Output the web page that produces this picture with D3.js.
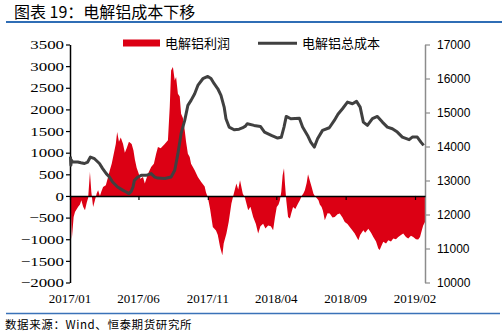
<!DOCTYPE html>
<html>
<head>
<meta charset="utf-8">
<script src="https://cdn.jsdelivr.net/npm/d3@7"></script>
<style>
  html, body { margin: 0; padding: 0; background: #ffffff; }
  svg { display: block; }
</style>
</head>
<body>
<svg id="chart" width="502" height="335"></svg>
<script>
// ---------- DATA ----------
const titleText = "图表 19：电解铝成本下移";
const sourceText = "数据来源：Wind、恒泰期货研究所";
const seriesNames = ["电解铝利润", "电解铝总成本"];

const profitDates = ["2017-01-03","2017-01-05","2017-01-09","2017-01-12","2017-01-19","2017-01-23","2017-01-26","2017-01-30","2017-02-03","2017-02-07","2017-02-10","2017-02-14","2017-02-17","2017-02-21","2017-02-25","2017-03-01","2017-03-04","2017-03-08","2017-03-11","2017-03-15","2017-03-21","2017-03-26","2017-03-30","2017-04-03","2017-04-08","2017-04-12","2017-04-15","2017-04-19","2017-04-23","2017-04-28","2017-05-02","2017-05-06","2017-05-11","2017-05-17","2017-05-21","2017-05-24","2017-05-28","2017-06-02","2017-06-05","2017-06-11","2017-06-15","2017-06-22","2017-06-29","2017-07-05","2017-07-10","2017-07-14","2017-07-20","2017-07-29","2017-08-05","2017-08-09","2017-08-12","2017-08-16","2017-08-20","2017-08-23","2017-08-27","2017-08-31","2017-09-03","2017-09-07","2017-09-11","2017-09-14","2017-09-18","2017-09-22","2017-09-25","2017-10-03","2017-10-10","2017-10-17","2017-10-25","2017-10-28","2017-11-01","2017-11-06","2017-11-12","2017-11-19","2017-11-23","2017-11-28","2017-12-03","2017-12-06","2017-12-12","2017-12-17","2017-12-23","2017-12-27","2018-01-03","2018-01-07","2018-01-11","2018-01-17","2018-01-22","2018-01-29","2018-02-03","2018-02-09","2018-02-15","2018-02-20","2018-02-25","2018-03-03","2018-03-08","2018-03-14","2018-03-20","2018-03-25","2018-03-29","2018-04-02","2018-04-06","2018-04-09","2018-04-12","2018-04-15","2018-04-18","2018-04-20","2018-04-23","2018-04-27","2018-05-01","2018-05-04","2018-05-08","2018-05-13","2018-05-19","2018-05-23","2018-05-27","2018-05-31","2018-06-03","2018-06-07","2018-06-10","2018-06-14","2018-06-18","2018-06-22","2018-06-25","2018-06-29","2018-07-03","2018-07-06","2018-07-10","2018-07-13","2018-07-17","2018-07-23","2018-07-28","2018-08-03","2018-08-08","2018-08-14","2018-08-19","2018-08-25","2018-08-30","2018-09-05","2018-09-10","2018-09-16","2018-09-21","2018-09-29","2018-10-03","2018-10-10","2018-10-14","2018-10-21","2018-10-27","2018-11-01","2018-11-07","2018-11-12","2018-11-15","2018-11-19","2018-11-23","2018-11-29","2018-12-04","2018-12-10","2018-12-15","2018-12-21","2018-12-26","2019-01-01","2019-01-06","2019-01-12","2019-01-17","2019-01-23","2019-01-28","2019-02-03","2019-02-08","2019-02-12","2019-02-16","2019-02-19","2019-02-23"];
const profitValues = [-300,-1000,-485,-370,-250,-200,-100,-250,-330,-150,-50,554,100,-254,-100,60,130,0,100,208,250,440,600,747,1000,1200,1480,1250,1350,1200,1000,1100,1250,1200,1050,850,650,500,400,440,285,515,670,747,978,1130,1100,1200,1285,2055,2900,2979,2670,2750,2363,2300,1900,1800,1517,1250,978,900,747,593,440,330,220,80,-30,-300,-716,-800,-900,-1178,-1370,-1100,-870,-600,-177,0,285,150,362,54,-50,-330,-250,-485,-650,-870,-700,-640,-750,-680,-700,-793,-500,-254,-200,-100,100,477,640,300,-100,-485,-520,-400,-254,-300,-177,-100,0,60,130,300,500,350,208,50,0,-50,-100,-200,-254,-350,-560,-400,-408,-500,-485,-420,-408,-500,-600,-650,-716,-800,-870,-1024,-900,-793,-850,-755,-850,-947,-1050,-1217,-1250,-1150,-1060,-1100,-1024,-1050,-986,-1000,-947,-900,-870,-950,-986,-920,-947,-1000,-1009,-950,-793,-680,-600];

const costDates = ["2017-01-02","2017-01-03","2017-01-04","2017-01-07","2017-01-18","2017-01-25","2017-02-02","2017-02-09","2017-02-15","2017-02-24","2017-03-07","2017-03-14","2017-03-22","2017-03-29","2017-04-05","2017-04-16","2017-04-28","2017-05-05","2017-05-11","2017-05-16","2017-05-20","2017-05-23","2017-05-31","2017-06-07","2017-06-18","2017-06-29","2017-07-07","2017-07-14","2017-07-29","2017-08-12","2017-08-20","2017-08-27","2017-09-03","2017-09-11","2017-09-18","2017-09-25","2017-10-03","2017-10-10","2017-10-21","2017-11-01","2017-11-08","2017-11-15","2017-11-23","2017-11-30","2017-12-07","2017-12-11","2017-12-18","2017-12-29","2018-01-09","2018-01-16","2018-01-23","2018-01-27","2018-02-11","2018-02-25","2018-03-06","2018-03-21","2018-04-04","2018-04-12","2018-04-18","2018-04-23","2018-05-03","2018-05-22","2018-05-29","2018-06-09","2018-06-16","2018-06-24","2018-07-01","2018-07-12","2018-07-27","2018-08-07","2018-08-15","2018-08-25","2018-09-05","2018-09-16","2018-09-25","2018-10-03","2018-10-10","2018-10-19","2018-10-30","2018-11-10","2018-11-21","2018-12-02","2018-12-13","2018-12-24","2019-01-04","2019-01-19","2019-01-26","2019-02-06","2019-02-14","2019-02-20"];
const costValues = [13700,13450,13600,13543,13543,13520,13500,13543,13690,13640,13500,13350,13202,13100,12955,12808,12710,12662,12613,12680,12808,13005,13104,13153,13153,13202,13100,13070,13060,13104,13299,13790,14377,14768,15209,15356,15552,15796,15993,16060,16000,15846,15698,15502,15159,14818,14571,14493,14510,14545,14600,14671,14620,14590,14424,14326,14248,14270,14571,14885,14816,14830,14571,14326,14130,13983,14228,14474,14552,14768,14950,15111,15306,15258,15326,15159,14718,14621,14818,14885,14718,14571,14522,14424,14277,14200,14277,14277,14130,14033];

const xTickDates = ["2017-01-01","2017-06-01","2017-11-01","2018-04-01","2018-09-01","2019-02-01"];
const xTickLabels = ["2017/01","2017/06","2017/11","2018/04","2018/09","2019/02"];
const leftTicks = [-2000,-1500,-1000,-500,0,500,1000,1500,2000,2500,3000,3500];
const rightTicks = [10000,11000,12000,13000,14000,15000,16000,17000];

// ---------- LAYOUT ----------
const parse = d3.timeParse("%Y-%m-%d");
const svg = d3.select("#chart");
const plotLeft = 70, plotRight = 425, plotTop = 44.5, plotBottom = 282.5;
const RED = "#DC0014", LINE = "#404040";

const x = d3.scaleTime()
  .domain([parse("2017-01-01"), parse("2019-02-23")])
  .range([plotLeft, plotRight]);
const yL = d3.scaleLinear().domain([-2000, 3500]).range([plotBottom, plotTop]);
const yR = d3.scaleLinear().domain([10000, 17000]).range([plotBottom, plotTop]);

const profit = profitDates.map((d, i) => ({ date: parse(d), v: profitValues[i] }));
const cost = costDates.map((d, i) => ({ date: parse(d), v: costValues[i] }));

// Title & rules
svg.append("text").attr("x", 14).attr("y", 18)
  .attr("font-family", "'Noto Sans CJK SC', 'Liberation Sans', sans-serif")
  .attr("font-size", 16).attr("fill", "#000").text(titleText);
svg.append("line").attr("x1", 6).attr("x2", 502).attr("y1", 22).attr("y2", 22)
  .attr("stroke", "#2F6DB5").attr("stroke-width", 2);
svg.append("line").attr("x1", 6).attr("x2", 500).attr("y1", 313.5).attr("y2", 313.5)
  .attr("stroke", "#3A72B8").attr("stroke-width", 1.5);
svg.append("text").attr("x", 5).attr("y", 329)
  .attr("font-family", "'Noto Sans CJK SC', 'Liberation Serif', serif")
  .attr("font-size", 11.5).attr("letter-spacing", 0.6).attr("fill", "#000").text(sourceText);

// Profit area
const area = d3.area().x(d => x(d.date)).y0(yL(0)).y1(d => yL(d.v));
svg.append("path").datum(profit).attr("d", area).attr("fill", RED);

// Left axis
const stretch = 1.3;
const gL = svg.append("g").attr("transform", `translate(${plotLeft},0)`)
  .call(d3.axisLeft(yL).tickValues(leftTicks).tickSize(4).tickSizeOuter(0).tickFormat(d3.format("d")));
gL.select(".domain").attr("stroke", "#000").attr("stroke-width", 1.5);
gL.selectAll(".tick line").attr("stroke", "#000").attr("stroke-width", 1.2);
gL.selectAll(".tick text").attr("font-family", "'Liberation Serif', 'Times New Roman', serif")
  .attr("font-size", 13).attr("fill", "#000")
  .attr("x", -6 / stretch).attr("transform", `scale(${stretch},1)`);

// Right axis
const gR = svg.append("g").attr("transform", `translate(${plotRight},0)`)
  .call(d3.axisRight(yR).tickValues(rightTicks).tickSize(5).tickSizeOuter(0).tickFormat(d3.format("d")));
gR.select(".domain").attr("stroke", "#8C8C8C").attr("stroke-width", 1.5);
gR.selectAll(".tick line").attr("stroke", "#8C8C8C").attr("stroke-width", 1.2);
gR.selectAll(".tick text").attr("font-family", "'Liberation Sans', Arial, sans-serif")
  .attr("font-size", 12).attr("fill", "#000").attr("x", 12);

// X axis on zero line
const gX = svg.append("g").attr("transform", `translate(0,${yL(0)})`)
  .call(d3.axisBottom(x).tickValues(xTickDates.map(parse)).tickSize(4).tickSizeOuter(0).tickFormat(""));
gX.select(".domain").attr("stroke", "#000").attr("stroke-width", 1.5);
gX.selectAll(".tick line").attr("stroke", "#000").attr("stroke-width", 1.2);

// X labels at bottom
svg.append("g").selectAll("text").data(xTickDates).join("text")
  .attr("x", d => x(parse(d))).attr("y", 303)
  .attr("text-anchor", "middle")
  .attr("font-family", "'Liberation Serif', 'Times New Roman', serif")
  .attr("font-size", 13).attr("fill", "#000")
  .text((d, i) => xTickLabels[i]);

// Cost line
const line = d3.line().x(d => x(d.date)).y(d => yR(d.v));
svg.append("path").datum(cost).attr("d", line)
  .attr("fill", "none").attr("stroke", LINE).attr("stroke-width", 3).attr("stroke-linejoin", "round");

// Legend
const lg = svg.append("g");
lg.append("rect").attr("x", 123).attr("y", 39.5).attr("width", 37).attr("height", 7).attr("fill", RED);
lg.append("text").attr("x", 165).attr("y", 48)
  .attr("font-family", "'Noto Sans CJK SC', sans-serif").attr("font-size", 13).attr("fill", "#000")
  .text(seriesNames[0]);
lg.append("line").attr("x1", 258).attr("x2", 297).attr("y1", 43.3).attr("y2", 43.3)
  .attr("stroke", LINE).attr("stroke-width", 3);
lg.append("text").attr("x", 302).attr("y", 48)
  .attr("font-family", "'Noto Sans CJK SC', sans-serif").attr("font-size", 13).attr("fill", "#000")
  .text(seriesNames[1]);
</script>
</body>
</html>
